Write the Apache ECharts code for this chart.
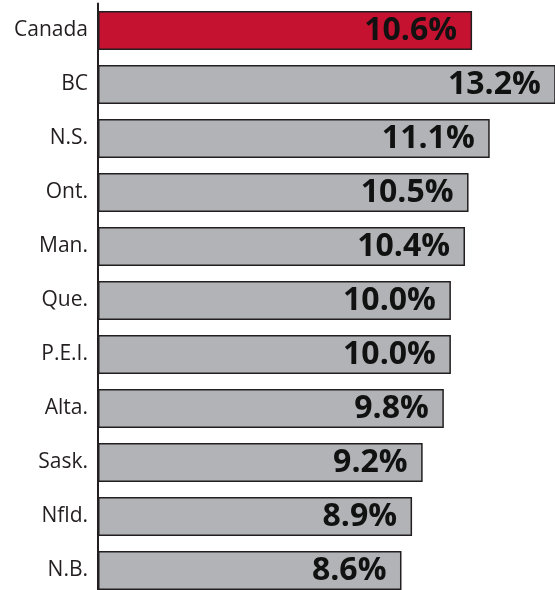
<!DOCTYPE html>
<html lang="en">
<head>
  <meta charset="UTF-8">
  <title>Provinces</title>
  <style>
    * { margin: 0; padding: 0; }
    body { overflow: hidden; }
    /* a bit taller than the window: the last bar runs off the bottom edge */
    #main { width: 555px; height: 598px; background: #fff; }
  </style>
</head>
<body>
  <div id="main"></div>
  <script src="https://cdn.jsdelivr.net/npm/echarts@6/dist/echarts.min.js"></script>
  <script>
    // data
    const categories = ['Canada', 'BC', 'N.S.', 'Ont.', 'Man.', 'Que.', 'P.E.I.', 'Alta.', 'Sask.', 'Nfld.', 'N.B.']
    const values = [10.6, 13.2, 11.1, 10.5, 10.4, 10.0, 10.0, 9.8, 9.2, 8.9, 8.6]
    const highlight = 'Canada'

    const red = '#C41230'
    const grey = '#B1B3B6'
    const ink = '#231F20'

    let chart = echarts.init(document.getElementById('main'))

    let option = {
      animation: false,
      grid: { left: 98, right: 0, top: 3.5, bottom: 0.5 },
      xAxis: {
        type: 'value',
        show: false,
        min: 0,
        max: 12.95 // BC runs off the edge, as in the original
      },
      yAxis: {
        type: 'category',
        inverse: true,
        data: categories,
        axisTick: { show: false },
        axisLine: { lineStyle: { color: ink, width: 2 } },
        axisLabel: {
          margin: 10,
          color: ink,
          fontSize: 21,
          fontFamily: 'Open Sans'
        }
      },
      series: [
        {
          type: 'bar',
          barWidth: 39,
          clip: true,
          data: values.map((v, i) => ({
            value: v,
            itemStyle: { color: categories[i] === highlight ? red : grey }
          })),
          itemStyle: { borderColor: ink, borderWidth: 1.5 },
          label: {
            show: true,
            position: 'insideRight',
            distance: 15,
            formatter: p => p.value.toFixed(1) + '%',
            color: '#111',
            fontSize: 32,
            fontWeight: 'bold',
            fontFamily: 'Open Sans'
          }
        }
      ]
    }
    chart.setOption(option)
  </script>
</body>
</html>
